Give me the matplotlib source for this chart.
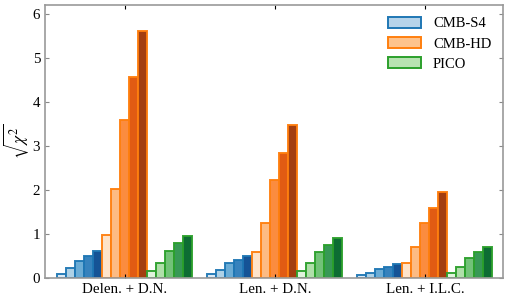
import numpy as np
import matplotlib
matplotlib.use('Agg')
import matplotlib.pyplot as plt
from matplotlib.patches import Patch

plt.rcParams['font.family'] = ['Liberation Serif', 'DejaVu Serif']
plt.rcParams['mathtext.fontset'] = 'stix'

cases = ['Delen. + D.N.', 'Len. + D.N.', 'Len. + I.L.C.']
experiments = ['CMB-S4', 'CMB-HD', 'PICO']

# sqrt(chi^2) for 5 settings per experiment, per case
s4 = [[0.10, 0.22, 0.38, 0.50, 0.61],
      [0.09, 0.18, 0.33, 0.42, 0.51],
      [0.06, 0.12, 0.20, 0.25, 0.31]]
hd = [[0.97, 2.02, 3.60, 4.57, 5.62],
      [0.60, 1.25, 2.22, 2.83, 3.47],
      [0.34, 0.71, 1.26, 1.60, 1.96]]
pico = [[0.17, 0.35, 0.62, 0.79, 0.96],
        [0.16, 0.33, 0.58, 0.75, 0.91],
        [0.12, 0.26, 0.46, 0.59, 0.71]]

values = {'CMB-S4': s4, 'CMB-HD': hd, 'PICO': pico}
cmaps = {'CMB-S4': plt.cm.Blues, 'CMB-HD': plt.cm.Oranges, 'PICO': plt.cm.Greens}
edges = {'CMB-S4': '#1f77b4', 'CMB-HD': '#ff7f0e', 'PICO': '#2ca02c'}

fig = plt.figure(figsize=(5.08, 3.01), dpi=100)
ax = fig.add_axes([0.0886, 0.0764, 0.9014, 0.9066])

w = 0.06
nset = 5
shades = np.linspace(0.15, 0.9, nset)
xc = np.arange(len(cases))
for k, exp in enumerate(experiments):
    for i in range(nset):
        pos = xc - 0.45 + (k * nset + i + 0.5) * w
        h = [values[exp][c][i] for c in range(len(cases))]
        ax.bar(pos, h, width=w, color=cmaps[exp](shades[i]),
               edgecolor=edges[exp], linewidth=1.4, alpha=0.95)

ax.set_xlim(-0.533, 2.52)
ax.set_ylim(0, 6.2)
ax.set_xticks(xc)
ax.set_xticklabels(cases, fontsize=10.8)
ax.set_yticks(range(7))
ax.tick_params(axis='both', direction='in', top=True, right=True, labelsize=10.8,
               length=3, width=0.8)
ax.tick_params(axis='y', colors='#888888', labelcolor='black')
ax.tick_params(axis='x', colors='black', labelcolor='black')
for s in ax.spines.values():
    s.set_color('#999999')
    s.set_linewidth(1.2)
ax.set_ylabel(r'$\sqrt{\chi^2}$', fontsize=12.5, labelpad=1)

handles = [Patch(facecolor=cmaps[e](0.3), edgecolor=edges[e], linewidth=1.4, label=e)
           for e in experiments]
ax.legend(handles=handles, loc='upper right', frameon=False, fontsize=10.5,
          handlelength=2.3, handleheight=0.8, borderaxespad=0.4, labelspacing=0.45)

fig.savefig('out.png', dpi=100)
